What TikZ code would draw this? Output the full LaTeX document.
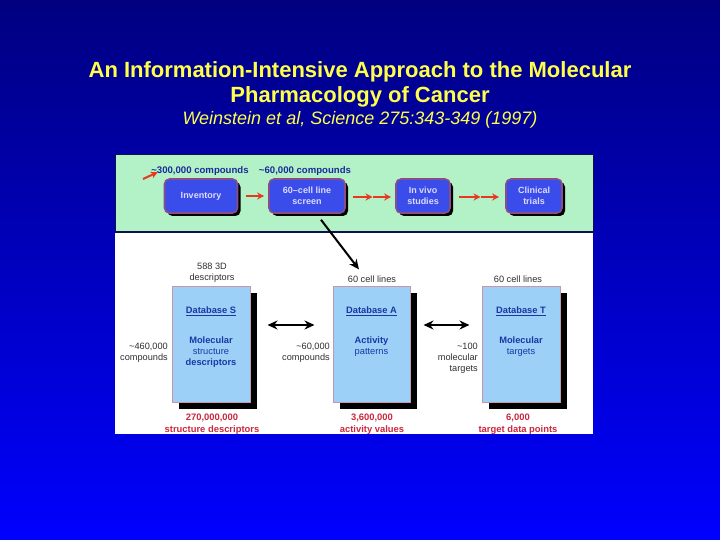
\documentclass[tikz,border=0pt]{standalone}
\usepackage{fontspec}
\setmainfont{Liberation Sans}
\usetikzlibrary{arrows.meta,calc,shadows}
\definecolor{navytop}{HTML}{000080}
\definecolor{bluebot}{HTML}{0000FF}
\definecolor{titleyellow}{HTML}{FFFF4A}
\definecolor{mint}{HTML}{B2F2C6}
\definecolor{boxblue}{HTML}{3A4CEA}
\definecolor{boxedge}{HTML}{8A4E86}
\definecolor{boxtext}{HTML}{DCDCFF}
\definecolor{lblue}{HTML}{9CD0F6}
\definecolor{dbedge}{HTML}{C896A8}
\definecolor{dbtext}{HTML}{1A36A8}
\definecolor{toplbl}{HTML}{1A2A9A}
\definecolor{redlbl}{HTML}{C8283C}
\definecolor{redarrow}{HTML}{E83820}
\definecolor{greytext}{HTML}{303030}
\definecolor{panelline}{HTML}{101050}
\newcommand{\tld}{\textasciitilde{}}
\tikzset{
  stagebox/.style={draw=boxedge, line width=1.6pt, fill=boxblue, rounded corners=5pt,
    minimum height=34pt, inner sep=1pt, align=center, text=boxtext,
    font=\fontsize{9}{10.5}\selectfont\bfseries,
    drop shadow={shadow xshift=3pt, shadow yshift=-3pt, fill=black, opacity=1}},
  dbbox/.style={draw=dbedge, line width=1pt, fill=lblue, minimum width=78pt, minimum height=116pt,
    drop shadow={shadow xshift=7pt, shadow yshift=-7pt, fill=black, opacity=1}},
  dbtitle/.style={font=\fontsize{9.3}{10}\selectfont\bfseries, text=dbtext, inner sep=0pt},
  dbdesc/.style={font=\fontsize{9.3}{11}\selectfont, text=dbtext, align=center, inner sep=0pt},
  toplabel/.style={font=\fontsize{9.6}{10}\selectfont\bfseries, text=toplbl, inner sep=0pt},
  greylabel/.style={font=\fontsize{9.2}{11}\selectfont, text=greytext, inner sep=0pt},
  redlabel/.style={font=\fontsize{9.4}{12}\selectfont\bfseries, text=redlbl, align=center, inner sep=0pt},
  redarr/.style={draw=redarrow, line width=2pt, -{Stealth[length=7pt,width=7pt]}},
  blkarr/.style={draw=black, line width=2pt, -{Stealth[length=10pt,width=9pt]}},
  dblarr/.style={draw=black, line width=2pt, {Stealth[length=10pt,width=9pt]}-{Stealth[length=10pt,width=9pt]}},
}
\begin{document}
\begin{tikzpicture}[x=1pt,y=-1pt]
\useasboundingbox (0,0) rectangle (720,540);
\shade[top color=navytop, bottom color=bluebot] (0,0) rectangle (720,540);

% title
\node[text=titleyellow, font=\fontsize{22}{26}\selectfont\bfseries] (t1) at (360,72) {An Information-Intensive Approach to the Molecular};
\node[text=titleyellow, font=\fontsize{22}{26}\selectfont\bfseries] (t2) at (360,97) {Pharmacology of Cancer};
\node[text=titleyellow, font=\fontsize{18}{22}\selectfont\itshape] (t3) at (360,120) {Weinstein et al, Science 275:343-349 (1997)};

% panel
\fill[white] (115,232) rectangle (593,434);
\draw[panelline, line width=1pt, fill=mint] (115,155) rectangle (593,232);

% top stage boxes
\node[stagebox, minimum width=73pt] (inv) at (201,196) {Inventory};
\node[stagebox, minimum width=76pt] (scr) at (307,196) {60--cell line\\screen};
\node[stagebox, minimum width=54pt] (viv) at (423,196) {In vivo\\studies};
\node[stagebox, minimum width=56pt] (cli) at (534,196) {Clinical\\trials};

\node[toplabel] (l300) at (200,171) {\tld 300,000 compounds};
\node[toplabel] (l60) at (305,171) {\tld 60,000 compounds};

\coordinate (start) at (143,179);
\draw[redarr] (start) -- ([xshift=-6pt,yshift=6pt]inv.north west);
\draw[redarr] ([xshift=8pt]inv.east) -- ([xshift=-4pt]scr.west);
\coordinate (m1) at (372.5,197);
\coordinate (m2) at (480.5,197);
\draw[redarr] ([xshift=7pt,yshift=-1pt]scr.east) -- (m1);
\draw[redarr] (m1) -- ([xshift=-4pt,yshift=-1pt]viv.west);
\draw[redarr] ([xshift=8pt,yshift=-1pt]viv.east) -- (m2);
\draw[redarr] (m2) -- ([xshift=-6pt,yshift=-1pt]cli.west);

% databases
\node[dbbox] (dS) at (211,344) {};
\node[dbbox, minimum width=77pt] (dA) at (371.5,344) {};
\node[dbbox] (dT) at (521,344) {};

\node[dbtitle] (dSt) at ([yshift=-26pt]dS.north) {\underline{Database S}};
\node[dbtitle] (dAt) at ([yshift=-26pt]dA.north) {\underline{Database A}};
\node[dbtitle] (dTt) at ([yshift=-26pt]dT.north) {\underline{Database T}};

\node[dbdesc] (dSd) at ([yshift=-67pt]dS.north) {\textbf{Molecular}\\structure\\\textbf{descriptors}};
\node[dbdesc] (dAd) at ([yshift=-61.5pt]dA.north) {\textbf{Activity}\\patterns};
\node[dbdesc] (dTd) at ([yshift=-61.5pt]dT.north) {\textbf{Molecular}\\targets};

% labels above
\node[greylabel, align=center] (aS) at (212,273) {588 3D\\descriptors};
\node[greylabel] (aA) at (372,279) {60 cell lines};
\node[greylabel] (aT) at (518,279) {60 cell lines};

% labels left
\node[greylabel, align=right, anchor=east] (lS) at (168,352.5) {\tld 460,000\\compounds};
\node[greylabel, align=right, anchor=east] (lA) at (330,352.5) {\tld 60,000\\compounds};
\node[greylabel, align=right, anchor=east] (lT) at (478,358) {\tld 100\\molecular\\targets};

% labels below
\node[redlabel] (bS) at (212,424) {270,000,000\\structure descriptors};
\node[redlabel] (bA) at (372,424) {3,600,000\\activity values};
\node[redlabel] (bT) at (518,424) {6,000\\target data points};

% connectors
\draw[blkarr] ([xshift=14pt,yshift=-6pt]scr.south) -- ([xshift=-13pt,yshift=6pt]aA.north);
\draw[dblarr] ([xshift=17pt,yshift=19pt]dS.east) -- ([xshift=-18pt,yshift=19pt]dA.west);
\draw[dblarr] ([xshift=13pt,yshift=19pt]dA.east) -- ([xshift=-12pt,yshift=19pt]dT.west);
\end{tikzpicture}
\end{document}
